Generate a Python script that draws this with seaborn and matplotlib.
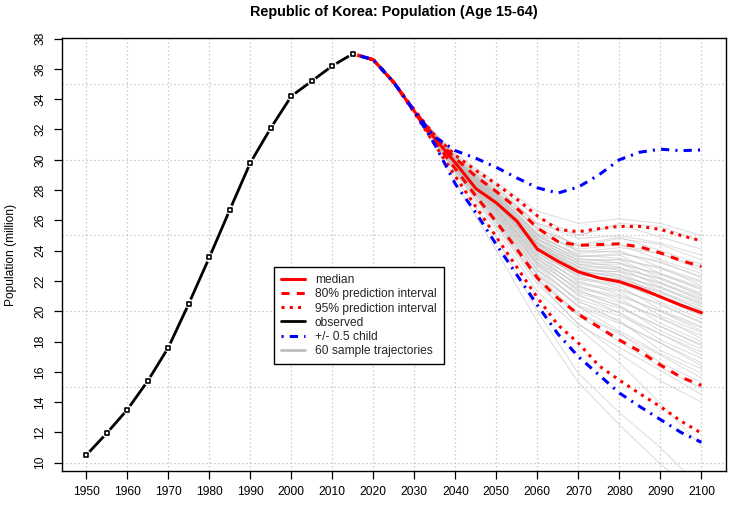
import numpy as np
import pandas as pd
import matplotlib
matplotlib.use("Agg")
import matplotlib.pyplot as plt
import seaborn as sns
from matplotlib.lines import Line2D

# ---------------- data ----------------
obs_years = [1950, 1955, 1960, 1965, 1970, 1975, 1980, 1985, 1990, 1995, 2000, 2005, 2010, 2015]
obs_pop = [10.5, 11.95, 13.5, 15.4, 17.6, 20.5, 23.55, 26.7, 29.8, 32.1, 34.2, 35.2, 36.2, 37.0]

proj_years = [2015, 2020, 2025, 2030, 2035, 2040, 2045, 2050, 2055, 2060,
              2065, 2070, 2075, 2080, 2085, 2090, 2095, 2100]
median = [37.0, 36.6, 35.1, 33.2, 31.4, 29.8, 28.1, 27.15, 25.95, 24.1,
          23.3, 22.6, 22.2, 21.95, 21.5, 20.95, 20.4, 19.9]
upper80 = [37.0, 36.6, 35.1, 33.25, 31.5, 30.1, 28.9, 27.9, 26.8, 25.5,
           24.6, 24.35, 24.4, 24.45, 24.25, 23.85, 23.35, 22.95]
lower80 = [37.0, 36.6, 35.1, 33.15, 31.2, 29.4, 27.6, 25.9, 24.1, 22.2,
           20.85, 19.8, 18.95, 18.1, 17.35, 16.45, 15.65, 15.1]
upper95 = [37.0, 36.6, 35.1, 33.3, 31.6, 30.3, 29.3, 28.4, 27.4, 26.3,
           25.4, 25.25, 25.45, 25.6, 25.6, 25.4, 25.0, 24.65]
lower95 = [37.0, 36.6, 35.1, 33.1, 31.0, 28.9, 26.9, 24.9, 22.9, 20.9,
           19.1, 17.9, 16.4, 15.45, 14.55, 13.7, 12.75, 11.95]
upper_child = [37.0, 36.6, 35.1, 33.2, 31.5, 30.6, 30.1, 29.5, 28.8, 28.15,
               27.8, 28.2, 29.0, 30.0, 30.5, 30.7, 30.6, 30.65]
lower_child = [37.0, 36.6, 35.1, 33.2, 31.0, 28.4, 26.5, 24.4, 22.4, 20.4,
               18.5, 17.0, 15.8, 14.6, 13.7, 12.85, 12.0, 11.35]

# 60 sample trajectories (shared path until 2030, then values per year)
traj_common_years = [2015, 2020, 2025, 2030]
traj_years = [2040, 2050, 2060, 2070, 2080, 2090, 2100]
traj_2040 = [28.5, 28.8, 29.1, 29.2, 29.2, 29.3, 29.3, 29.4, 29.4, 29.4, 29.4, 29.5, 29.5, 29.5, 29.5,
             29.5, 29.6, 29.6, 29.6, 29.6, 29.6, 29.7, 29.7, 29.7, 29.7, 29.7, 29.7, 29.8, 29.8, 29.8,
             29.8, 29.8, 29.8, 29.8, 29.8, 29.9, 29.9, 29.9, 29.9, 29.9, 29.9, 29.9, 29.9, 29.9, 30.0,
             30.0, 30.0, 30.0, 30.0, 30.0, 30.0, 30.1, 30.1, 30.1, 30.1, 30.1, 30.2, 30.2, 30.3, 30.4]
traj_2050 = [24.0, 24.9, 25.4, 25.6, 25.7, 25.9, 25.9, 26.0, 26.1, 26.2, 26.2, 26.3, 26.4, 26.4, 26.5,
             26.5, 26.6, 26.6, 26.7, 26.7, 26.8, 26.8, 26.8, 26.9, 26.9, 27.0, 27.0, 27.1, 27.1, 27.1,
             27.2, 27.2, 27.2, 27.2, 27.3, 27.3, 27.3, 27.3, 27.4, 27.4, 27.4, 27.5, 27.5, 27.5, 27.5,
             27.6, 27.6, 27.6, 27.7, 27.7, 27.7, 27.8, 27.8, 27.9, 27.9, 28.0, 28.1, 28.2, 28.3, 28.5]
traj_2060 = [19.3, 20.0, 21.3, 21.8, 22.0, 22.1, 22.1, 22.4, 22.5, 22.4, 22.7, 22.8, 22.7, 23.0, 23.1,
             23.0, 23.2, 23.3, 23.2, 23.5, 23.5, 23.4, 23.7, 23.7, 23.6, 23.9, 23.9, 23.8, 24.1, 24.1,
             24.0, 24.2, 24.3, 24.1, 24.4, 24.4, 24.2, 24.5, 24.5, 24.4, 24.6, 24.7, 24.5, 24.8, 24.8,
             24.7, 25.0, 25.0, 24.9, 25.1, 25.2, 25.1, 25.4, 25.5, 25.4, 25.7, 25.8, 25.8, 26.2, 26.6]
traj_2070 = [15.3, 15.9, 18.9, 19.2, 19.1, 19.7, 19.9, 19.8, 20.3, 20.4, 20.3, 20.7, 20.8, 20.6, 21.1,
             21.2, 21.0, 21.4, 21.5, 21.3, 21.7, 21.8, 21.6, 22.0, 22.1, 21.9, 22.3, 22.4, 22.2, 22.6,
             22.6, 22.4, 22.7, 22.8, 22.6, 22.9, 23.0, 22.7, 23.1, 23.2, 22.9, 23.3, 23.4, 23.1, 23.5,
             23.6, 23.3, 23.7, 23.8, 23.6, 24.0, 24.1, 23.9, 24.3, 24.4, 24.3, 24.8, 25.0, 25.0, 25.8]
traj_2080 = [12.5, 13.3, 16.6, 17.2, 17.6, 18.0, 18.6, 18.5, 18.7, 19.4, 19.2, 19.3, 19.9, 19.7, 19.9,
             20.4, 20.2, 20.3, 20.9, 20.6, 20.7, 21.3, 21.0, 21.1, 21.7, 21.4, 21.5, 22.1, 21.8, 21.9,
             22.4, 22.1, 22.2, 22.6, 22.3, 22.4, 22.9, 22.6, 22.7, 23.2, 22.8, 22.9, 23.4, 23.1, 23.2,
             23.7, 23.4, 23.5, 24.0, 23.8, 23.9, 24.4, 24.2, 24.4, 24.9, 24.8, 25.0, 25.7, 25.8, 26.1]
traj_2090 = [9.9, 11.0, 13.9, 15.4, 16.1, 16.3, 16.6, 17.1, 17.2, 17.4, 17.9, 17.9, 18.1, 18.5, 18.5,
             18.7, 19.0, 19.0, 19.2, 19.6, 19.5, 19.7, 20.0, 20.0, 20.1, 20.5, 20.4, 20.6, 20.9, 20.9,
             21.0, 21.3, 21.2, 21.3, 21.6, 21.5, 21.6, 21.9, 21.8, 21.9, 22.2, 22.1, 22.2, 22.5, 22.4,
             22.5, 22.9, 22.8, 22.9, 23.3, 23.2, 23.4, 23.8, 23.8, 24.0, 24.4, 24.5, 24.9, 25.6, 25.8]
traj_2100 = [7.8, 8.3, 11.1, 14.0, 14.5, 14.9, 15.3, 15.6, 15.9, 16.2, 16.4, 16.6, 16.9, 17.1, 17.3,
             17.5, 17.7, 17.8, 18.0, 18.2, 18.4, 18.6, 18.7, 18.9, 19.0, 19.2, 19.3, 19.5, 19.7, 19.8,
             20.0, 20.1, 20.1, 20.3, 20.4, 20.5, 20.6, 20.7, 20.8, 20.9, 21.0, 21.1, 21.2, 21.4, 21.5,
             21.6, 21.7, 21.9, 22.0, 22.2, 22.3, 22.5, 22.7, 22.9, 23.1, 23.4, 23.7, 24.1, 24.6, 25.0]

x_ticks = [1950, 1960, 1970, 1980, 1990, 2000, 2010, 2020, 2030, 2040, 2050, 2060, 2070, 2080, 2090, 2100]
y_ticks = [10, 12, 14, 16, 18, 20, 22, 24, 26, 28, 30, 32, 34, 36, 38]
grid_y = [10, 15, 20, 25, 30, 35]

title = "Republic of Korea: Population (Age 15-64)"
ylabel = "Population (million)"
legend_labels = ["median", "80% prediction interval", "95% prediction interval",
                 "observed", "+/- 0.5 child", "60 sample trajectories"]

# ---------------- build long table of trajectories ----------------
traj_cols = [traj_2040, traj_2050, traj_2060, traj_2070, traj_2080, traj_2090, traj_2100]
wide = pd.DataFrame({y: col for y, col in zip(traj_years, traj_cols)})
for yr, val in zip(traj_common_years[::-1], median[:4][::-1]):
    wide.insert(0, yr, val)
wide["sample"] = range(len(wide))
traj_df = wide.melt(id_vars="sample", var_name="year", value_name="pop")
traj_df["year"] = traj_df["year"].astype(float)

# ---------------- style ----------------
sns.set_theme(style="white")
plt.rcParams["font.family"] = ["Liberation Sans", "DejaVu Sans"]
FS = 8.64

fig = plt.figure(figsize=(7.35, 5.08), dpi=100)
ax = fig.add_axes([61.7 / 735, 1 - 470.7 / 508, (726 - 61.7) / 735, (470.7 - 38.3) / 508])
ax.set_facecolor("white")

grid_kw = dict(color="#BEBEBE", lw=0.9, linestyle=(0, (1, 2.2)), zorder=0.5)
for gx in x_ticks:
    ax.axvline(gx, **grid_kw)
for gy in grid_y:
    ax.axhline(gy, **grid_kw)

# trajectories
sns.lineplot(data=traj_df, x="year", y="pop", units="sample", estimator=None,
             color="#BEBEBE", lw=0.7, alpha=0.55, ax=ax, legend=False, zorder=1)

red = "#FF0000"
blue = "#0000FF"
LW = 2.2
dash80 = (0, (2.6, 2.4))
dot95 = (0, (1.0, 1.7))
dashchild = (0, (0.7, 2.0, 2.7, 2.0))

sns.lineplot(x=proj_years, y=upper95, color=red, lw=LW, linestyle=dot95, ax=ax, zorder=3)
sns.lineplot(x=proj_years, y=lower95, color=red, lw=LW, linestyle=dot95, ax=ax, zorder=3)
sns.lineplot(x=proj_years, y=upper80, color=red, lw=LW, linestyle=dash80, ax=ax, zorder=3)
sns.lineplot(x=proj_years, y=lower80, color=red, lw=LW, linestyle=dash80, ax=ax, zorder=3)
sns.lineplot(x=proj_years, y=median, color=red, lw=LW, ax=ax, zorder=4)
sns.lineplot(x=proj_years, y=upper_child, color=blue, lw=LW, linestyle=dashchild, ax=ax, zorder=5)
sns.lineplot(x=proj_years, y=lower_child, color=blue, lw=LW, linestyle=dashchild, ax=ax, zorder=5)

# observed (R type="b": line with gaps around points)
sns.lineplot(x=obs_years, y=obs_pop, color="black", lw=2.0, ax=ax, zorder=6)
ax.scatter(obs_years, obs_pop, marker="o", s=45, color="white", edgecolors="none", zorder=7)
ax.scatter(obs_years, obs_pop, marker="s", s=11, facecolors="white", edgecolors="black",
           linewidths=1.2, zorder=8)

ax.set_xlim(1944, 2106)
ax.set_ylim(9.47, 38.02)
ax.set_xticks(x_ticks)
ax.set_xticklabels([str(t) for t in x_ticks], fontsize=FS)
ax.set_yticks(y_ticks)
ax.set_yticklabels([str(t) for t in y_ticks], fontsize=FS, rotation=90, va="center")
ax.tick_params(axis="both", which="major", bottom=True, left=True, top=False, right=False,
               direction="out", length=6, width=0.9, color="black", labelcolor="black")
ax.tick_params(axis="x", pad=5)
ax.tick_params(axis="y", pad=5)
ax.set_xlabel("")
ax.set_ylabel("")
for sp in ax.spines.values():
    sp.set_visible(True)
    sp.set_color("black")
    sp.set_linewidth(1.0)

fig.text(394 / 735, 1 - 12 / 508, title, ha="center", va="center",
         fontsize=10.4, fontweight="bold", color="black")
fig.text(11 / 735, 1 - 254.5 / 508, ylabel, ha="center", va="center",
         rotation=90, fontsize=FS, color="black")

handles = [
    Line2D([], [], color=red, lw=LW),
    Line2D([], [], color=red, lw=LW, linestyle=dash80),
    Line2D([], [], color=red, lw=LW, linestyle=dot95),
    Line2D([], [], color="black", lw=2.0),
    Line2D([], [], color=blue, lw=LW, linestyle=dashchild),
    Line2D([], [], color="#BEBEBE", lw=2.0),
]
leg = ax.legend(handles, legend_labels, loc="upper left",
                bbox_to_anchor=((274 - 61.7) / 664.3, (470.7 - 267) / 432.4),
                borderaxespad=0, fontsize=FS, frameon=True, fancybox=False,
                framealpha=1, edgecolor="black", handlelength=2.0,
                handletextpad=0.8, labelspacing=0.18, borderpad=0.6)
leg.get_frame().set_linewidth(1.0)
leg.set_zorder(10)

fig.savefig("out.png", dpi=100, facecolor="white")
